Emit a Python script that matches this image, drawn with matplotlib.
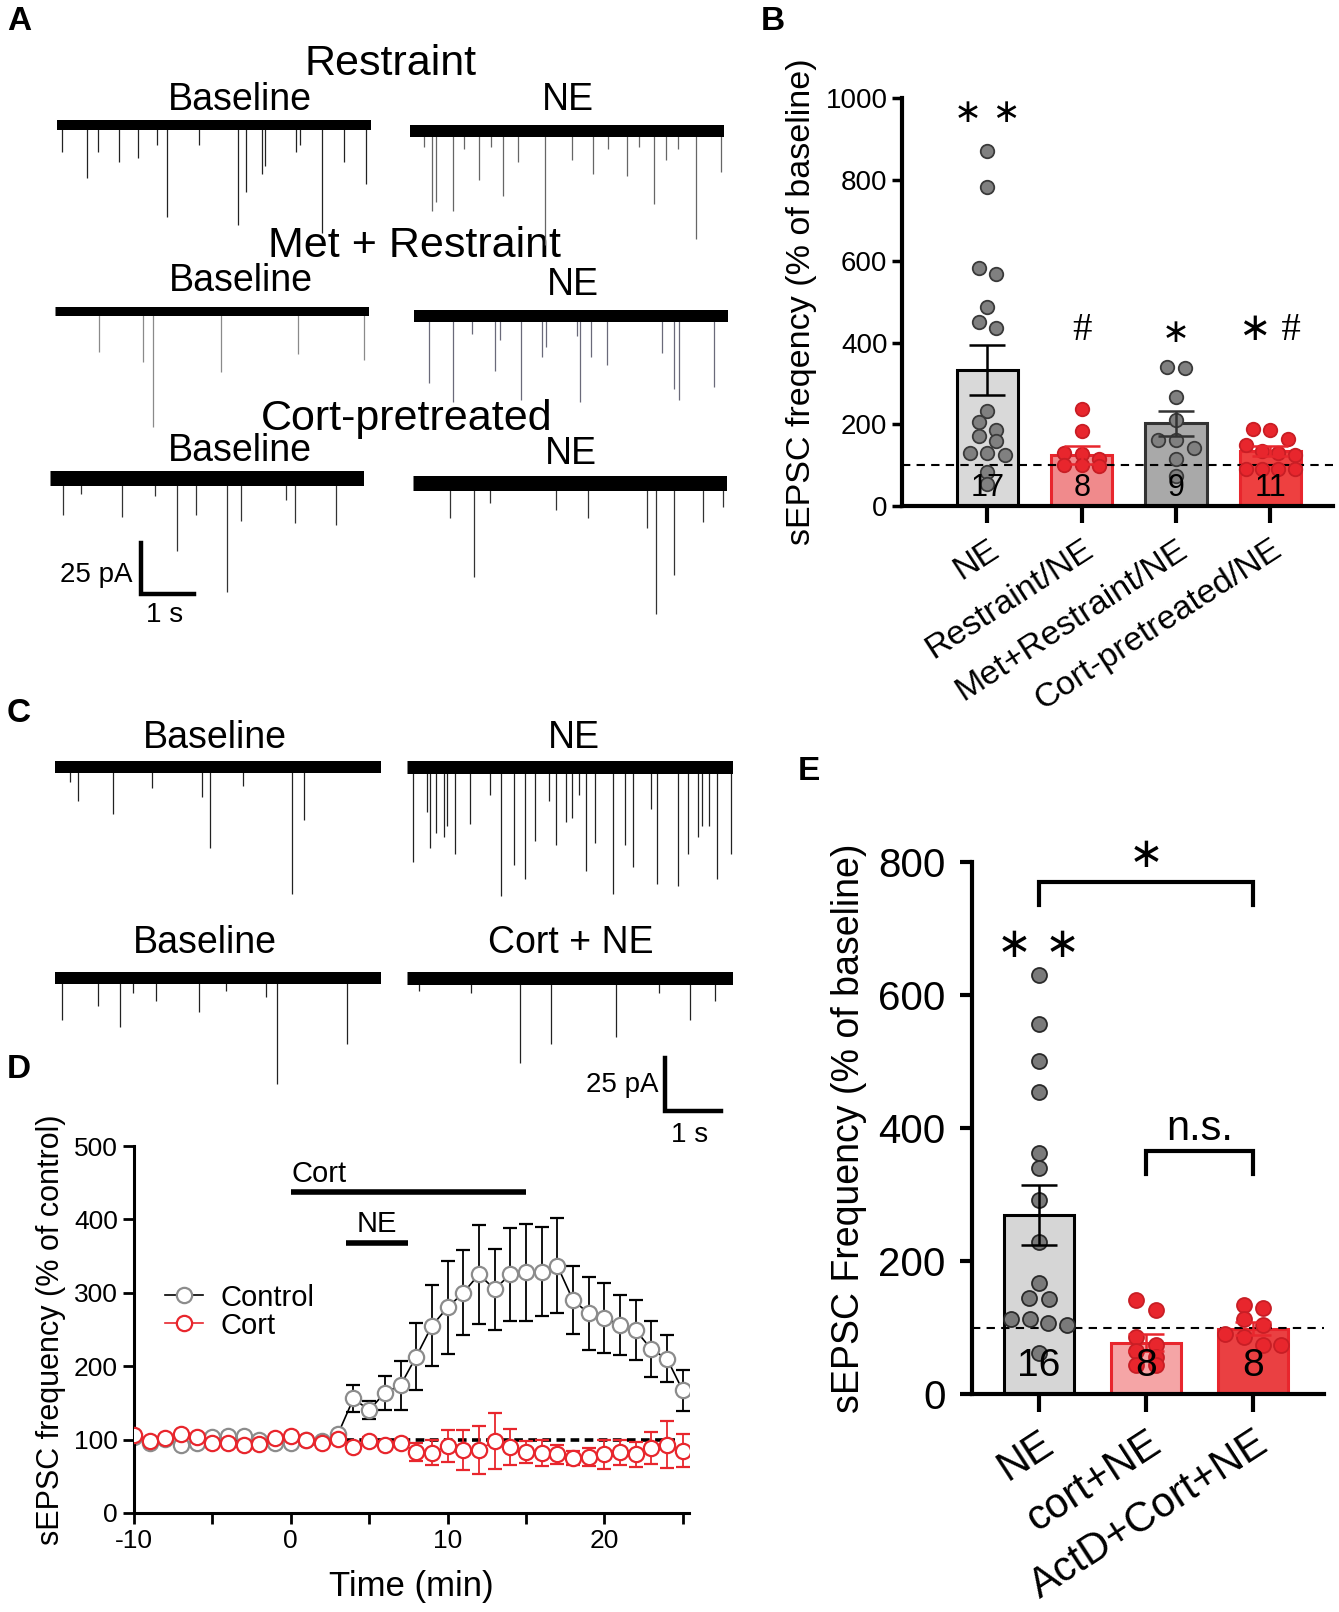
import numpy as np
import matplotlib
matplotlib.use("Agg")
import matplotlib.pyplot as plt
from matplotlib.lines import Line2D

W, H = 1339, 1612
plt.rcParams.update({"font.family": ["Liberation Sans", "DejaVu Sans"],
                     "axes.unicode_minus": False,
                     "axes.linewidth": 2.2, "xtick.major.width": 2.2,
                     "ytick.major.width": 2.2, "xtick.minor.width": 2.2})

STAR_FONT = ["DejaVu Sans"]
HASH_FONT = ["Liberation Serif", "DejaVu Sans"]
GRAY_DOT = "#808080"
RED = "#e8262d"

# ---------------- example traces: spike time (s), depth below baseline (pA) ----
A_RES_BASE_T = [0.09, 0.58, 0.78, 1.19, 1.55, 1.91, 2.11, 2.71, 3.47, 3.61, 3.92, 3.97, 4.57, 4.64, 5.07, 5.49, 5.91]
A_RES_BASE_D = [13, 26, 13, 18, 16, 10, 45, 10, 49, 33, 24, 20, 13, 10, 53, 18, 29]
A_RES_NE_T = [0.26, 0.43, 0.49, 0.83, 1.04, 1.32, 1.55, 1.78, 2.07, 2.59, 3.10, 3.49, 3.78, 4.14, 4.37, 4.66, 4.90, 5.12, 5.46, 5.94]
A_RES_NE_D = [8, 39, 35, 39, 9, 24, 8, 32, 15, 56, 14, 21, 9, 22, 8, 36, 14, 9, 53, 20]
A_MET_BASE_T = [0.85, 1.69, 1.87, 3.18, 4.64, 5.91]
A_MET_BASE_D = [20, 25, 57, 30, 21, 24]
A_MET_NE_T = [0.29, 0.74, 1.10, 1.55, 1.64, 2.04, 2.45, 2.52, 3.12, 3.18, 3.39, 3.69, 4.74, 4.97, 5.07, 5.73]
A_MET_NE_D = [33, 42, 9, 27, 12, 41, 20, 15, 10, 42, 20, 24, 18, 36, 41, 35]
A_CORT_BASE_T = [0.25, 0.60, 1.37, 2.0, 2.43, 2.79, 3.39, 3.66, 4.52, 4.68, 5.46]
A_CORT_BASE_D = [18, 8, 19, 9, 36, 18, 56, 21, 11, 22, 23]
A_CORT_NE_T = [0.71, 1.16, 1.47, 2.73, 3.35, 4.47, 4.64, 4.99, 5.55, 5.93]
A_CORT_NE_D = [17, 46, 10, 13, 17, 22, 64, 45, 19, 12]

C_BASE1_T = [0.28, 0.42, 1.07, 1.78, 2.70, 2.86, 3.46, 4.36, 4.58]
C_BASE1_D = [7, 16, 22, 10, 14, 38, 9, 60, 25]
C_NE_T = [0.11, 0.36, 0.42, 0.54, 0.69, 0.74, 0.89, 1.16, 1.53, 1.74, 1.97, 2.17, 2.36, 2.62, 2.75, 2.92,
          3.03, 3.16, 3.29, 3.46, 3.79, 4.01, 4.17, 4.50, 4.61, 4.99, 5.18, 5.35, 5.44, 5.57, 5.70, 5.97]
C_NE_D = [45, 21, 38, 31, 33, 28, 41, 27, 13, 61, 46, 53, 35, 16, 37, 26,
          24, 13, 49, 36, 60, 37, 47, 20, 55, 56, 41, 33, 28, 28, 53, 41]
C_BASE2_T = [0.12, 0.80, 1.19, 1.43, 1.86, 2.66, 3.14, 3.89, 4.09, 5.38]
C_BASE2_D = [20, 13, 23, 7, 11, 16, 6, 9, 50, 31]
C_CORTNE_T = [0.22, 1.18, 2.09, 2.65, 3.84, 4.64, 5.22, 5.67]
C_CORTNE_D = [6, 7, 40, 31, 28, 7, 20, 11]

SCALE_PA, SCALE_S = 25, 1

# ---------------- panel B ----------------
B_GROUPS = ["NE", "Restraint/NE", "Met+Restraint/NE", "Cort-pretreated/NE"]
B_MEAN = [333, 125, 203, 134]
B_SEM = [62, 23, 31, 12]
B_N = [17, 8, 9, 11]
B_PTS = [[869, 782, 584, 568, 488, 450, 436, 234, 205, 186, 172, 159, 131, 129, 126, 83, 54],
         [237, 183, 131, 128, 114, 101, 101, 98],
         [341, 339, 267, 212, 161, 161, 142, 114, 74],
         [188, 186, 164, 150, 136, 129, 126, 90, 90, 90, 90]]
B_SIG = ["\u2217 \u2217", "#", "\u2217", "\u2217 #"]

# ---------------- panel D ----------------
D_T = list(range(-10, 26))
D_CTRL = [103, 95, 101, 93, 96, 104, 105, 105, 100, 96, 96, 100, 98, 107,
          156, 140, 164, 174, 213, 255, 280, 300, 325, 305, 325, 328, 329, 337,
          290, 272, 266, 256, 249, 223, 210, 167]
D_CTRL_ERR = [3, 3, 4, 3, 4, 4, 4, 3, 3, 3, 3, 3, 3, 4,
              19, 12, 23, 33, 46, 55, 63, 58, 68, 55, 63, 66, 61, 65,
              46, 50, 48, 41, 41, 38, 32, 28]
D_CORT = [106, 98, 102, 107, 103, 95, 96, 93, 94, 102, 105, 99, 96, 101,
          90, 98, 93, 96, 83, 82, 91, 86, 86, 98, 90, 83, 82, 80,
          75, 76, 80, 83, 80, 89, 93, 85]
D_CORT_ERR = [4, 4, 4, 4, 4, 4, 4, 4, 4, 4, 4, 4, 4, 4,
              5, 5, 5, 5, 12, 17, 22, 27, 33, 38, 25, 15, 18, 13,
              10, 12, 20, 17, 17, 22, 32, 22]
D_CORT_ON = (0, 15)
D_NE_ON = (3.5, 7.5)

# ---------------- panel E ----------------
E_GROUPS = ["NE", "cort+NE", "ActD+Cort+NE"]
E_MEAN = [269, 77, 98]
E_SEM = [45, 13, 10]
E_N = [16, 8, 8]
E_PTS = [[630, 557, 501, 454, 363, 340, 292, 228, 167, 145, 143, 113, 113, 107, 104, 61],
         [141, 126, 85, 73, 64, 55, 44, 44],
         [134, 130, 113, 104, 90, 85, 73, 73]]

BAR_W = 0.65


def px_axes(fig, left, top, right, bottom):
    return fig.add_axes([left / W, 1 - bottom / H, (right - left) / W, (bottom - top) / H])


def unit_axes(fig, x0, y0, pps, ppa, xr, yr):
    """axes whose data origin sits at pixel (x0, y0), pps px per s, ppa px per pA"""
    ax = px_axes(fig, x0 + xr[0] * pps, y0 - yr[1] * ppa, x0 + xr[1] * pps, y0 - yr[0] * ppa)
    ax.set_xlim(*xr)
    ax.set_ylim(*yr)
    ax.axis("off")
    return ax


def trace(fig, x0, y0, t, d, pps, ppa, band, spike="#333333", dur=6.0):
    ax = unit_axes(fig, x0, y0, pps, ppa, (0, dur), (-70, 12))
    ax.vlines(t, -np.asarray(d), 0, color=spike, lw=0.9, clip_on=False)
    ax.plot([0, dur], [0, 0], color="black", lw=band * 0.72, solid_capstyle="butt")


def scalebar(fig, x0, y0, pps, ppa):
    ax = unit_axes(fig, x0, y0, pps, ppa, (-0.2, 1.2), (-3, 28))
    ax.plot([0, 0, SCALE_S], [SCALE_PA, 0, 0], color="black", lw=3.2,
            solid_joinstyle="miter", clip_on=False)


def swarm_x(ax, vals, diam, spread=1.3, tol=0.8):
    """GraphPad-like scatter: group points into rows about one dot high, centre each row"""
    bb = ax.get_window_extent()
    sx = bb.width / np.ptp(ax.get_xlim())
    sy = bb.height / np.ptp(ax.get_ylim())
    vals = np.asarray(vals, float)
    rows = []
    for idx in np.argsort(-vals, kind="stable"):
        y = vals[idx] * sy
        if rows and rows[-1][0] - y <= tol * diam:
            rows[-1][1].append(idx)
        else:
            rows.append([y, [idx]])
    offs = np.zeros(len(vals))
    for _, members in rows:
        n = len(members)
        step = min(spread * diam, 0.8 * BAR_W * sx / (n - 1)) if n > 1 else 0.0
        for k, idx in enumerate(members):
            offs[idx] = (k - (n - 1) / 2) * step / sx
    return offs


def bar_panel(ax, groups, means, sems, ns, pts, fcs, ecs, dotc, dotec, diam, nfs, ny):
    x = np.arange(len(groups))
    ax.bar(x, means, width=BAR_W, color=fcs, edgecolor=ecs, linewidth=2.2, zorder=1)
    for i in x:
        off = swarm_x(ax, pts[i], diam)
        ax.scatter(i + off, pts[i], s=(diam * 0.72) ** 2, c=dotc[i], edgecolors=dotec[i],
                   linewidths=1.3, zorder=3)
        ax.errorbar(i, means[i], yerr=sems[i], fmt="none", ecolor=ecs[i], elinewidth=1.8,
                    capsize=13, capthick=1.8, zorder=4)
        ax.text(i, ny, str(ns[i]), ha="center", va="center", fontsize=nfs, zorder=5)
    ax.axhline(100, color="black", lw=1.5, ls=(0, (4, 3)), zorder=2)
    ax.set_xticks(x)
    for s in ("top", "right"):
        ax.spines[s].set_visible(False)
    ax.spines["left"].set_linewidth(3)
    ax.spines["bottom"].set_linewidth(3)


fig = plt.figure(figsize=(W / 100, H / 100), dpi=100)
ov = fig.add_axes([0, 0, 1, 1])
ov.set_xlim(0, W)
ov.set_ylim(H, 0)
ov.axis("off")

# panel letters
for lab, (lx, ly) in {"A": (19, 21), "B": (773, 22), "C": (19, 714), "D": (19, 1070), "E": (809, 771)}.items():
    ov.text(lx, ly, lab, fontsize=24, fontweight="bold", ha="center", va="center")

# ---------------- A ----------------
TXT = 27
ov.text(391, 64, "Restraint", fontsize=31, ha="center", va="center")
ov.text(240, 100, "Baseline", fontsize=TXT, ha="center", va="center")
ov.text(568, 100, "NE", fontsize=TXT, ha="center", va="center")
ov.text(414, 246, "Met + Restraint", fontsize=31, ha="center", va="center")
ov.text(241, 281, "Baseline", fontsize=TXT, ha="center", va="center")
ov.text(573, 285, "NE", fontsize=TXT, ha="center", va="center")
ov.text(407, 419, "Cort-pretreated", fontsize=31, ha="center", va="center")
ov.text(240, 451, "Baseline", fontsize=TXT, ha="center", va="center")
ov.text(571, 454, "NE", fontsize=TXT, ha="center", va="center")

PPS_A, PPA_A = 52.3, 2.04
trace(fig, 57, 125, A_RES_BASE_T, A_RES_BASE_D, PPS_A, PPA_A, 10, "#222222")
trace(fig, 410, 131, A_RES_NE_T, A_RES_NE_D, PPS_A, PPA_A, 12, "#666666")
trace(fig, 55, 311, A_MET_BASE_T, A_MET_BASE_D, PPS_A, PPA_A, 9, "#8a8a8a")
trace(fig, 414, 316, A_MET_NE_T, A_MET_NE_D, PPS_A, PPA_A, 12, "#6a6a7a")
trace(fig, 50, 478, A_CORT_BASE_T, A_CORT_BASE_D, PPS_A, PPA_A, 15, "#333333")
trace(fig, 413, 483, A_CORT_NE_T, A_CORT_NE_D, PPS_A, PPA_A, 15, "#333333")
scalebar(fig, 141, 594, 53, PPA_A)
ov.text(133, 575, "25 pA", fontsize=20, ha="right", va="center")
ov.text(165, 615, "1 s", fontsize=20, ha="center", va="center")

# ---------------- C ----------------
ov.text(215, 738, "Baseline", fontsize=TXT, ha="center", va="center")
ov.text(574, 738, "NE", fontsize=TXT, ha="center", va="center")
ov.text(205, 943, "Baseline", fontsize=TXT, ha="center", va="center")
ov.text(571, 943, "Cort + NE", fontsize=TXT, ha="center", va="center")
PPS_C, PPA_C = 54.3, 2.12
trace(fig, 55, 767, C_BASE1_T, C_BASE1_D, PPS_C, PPA_C, 12, "#222222")
trace(fig, 407, 767, C_NE_T, C_NE_D, PPS_C, PPA_C, 13, "#222222")
trace(fig, 55, 978, C_BASE2_T, C_BASE2_D, PPS_C, PPA_C, 12, "#222222")
trace(fig, 407, 978, C_CORTNE_T, C_CORTNE_D, PPS_C, PPA_C, 13, "#222222")
scalebar(fig, 665, 1111, 56, PPA_C)
ov.text(659, 1085, "25 pA", fontsize=20, ha="right", va="center")
ov.text(690, 1135, "1 s", fontsize=20, ha="center", va="center")

# ---------------- B ----------------
axb = px_axes(fig, 902, 98, 1333, 506)
axb.set_xlim(-0.905, 3.665)
axb.set_ylim(0, 1000)
bar_panel(axb, B_GROUPS, B_MEAN, B_SEM, B_N, B_PTS,
          ["#d9d9d9", "#f08a8c", "#a9a9a9", "#ee4040"],
          ["black", RED, "#333333", RED],
          [GRAY_DOT, RED, GRAY_DOT, RED], ["#3a3a3a", "#c81e25", "#3a3a3a", "#c81e25"], 13.5, 22, 45)
axb.set_yticks(range(0, 1001, 200))
axb.tick_params(axis="y", labelsize=20, length=7, width=2.5)
axb.tick_params(axis="x", length=12, width=3, pad=8)
axb.set_xticklabels(B_GROUPS, rotation=33, ha="right", rotation_mode="anchor", fontsize=24.5)
axb.set_ylabel("sEPSC freqency (% of baseline)", fontsize=24.5, labelpad=6)
for i, (s, y) in enumerate(zip(B_SIG, [965, 430, 425, 430])):
    fam = STAR_FONT if "#" not in s else HASH_FONT
    axb.text(i, y, s, ha="center", va="center", fontsize=24 if "#" not in s else 28, family=fam)

# ---------------- D ----------------
axd = px_axes(fig, 134, 1146, 689, 1513)
axd.set_xlim(-10, 25.4)
axd.set_ylim(0, 500)
axd.hlines(100, -10, 24.5, color="black", lw=2.6, ls=(0, (2.4, 1.5)), zorder=1)
axd.errorbar(D_T, D_CTRL, yerr=D_CTRL_ERR, fmt="-o", color="black", lw=1.2, ms=11,
             mfc="white", mec="#8c8c8c", mew=1.6, ecolor="black", elinewidth=1.3,
             capsize=5, capthick=1.3, zorder=2)
axd.errorbar(D_T, D_CORT, yerr=D_CORT_ERR, fmt="-o", color=RED, lw=1.2, ms=11,
             mfc="white", mec=RED, mew=1.6, ecolor=RED, elinewidth=1.3,
             capsize=5, capthick=1.3, zorder=3)
axd.plot(D_CORT_ON, [437, 437], color="black", lw=4, solid_capstyle="butt")
axd.text(D_CORT_ON[0] + 0.05, 462, "Cort", fontsize=21, ha="left", va="center")
axd.plot(D_NE_ON, [368, 368], color="black", lw=4, solid_capstyle="butt")
axd.text(sum(D_NE_ON) / 2, 394, "NE", fontsize=21, ha="center", va="center")
axd.set_xticks([-10, 0, 10, 20])
axd.set_xticks([-5, 5, 15, 25], minor=True)
axd.set_yticks(range(0, 501, 100))
axd.tick_params(axis="both", which="both", labelsize=19, length=8, width=2)
for s in ("top", "right"):
    axd.spines[s].set_visible(False)
axd.spines["left"].set_linewidth(2.2)
axd.spines["bottom"].set_linewidth(2.2)
axd.set_xlabel("Time (min)", fontsize=25, labelpad=12)
axd.set_ylabel("sEPSC frequency (% of control)", fontsize=22, labelpad=6)
hd = [Line2D([], [], color="black", lw=1.2, marker="o", ms=11, mfc="white", mec="#8c8c8c", mew=1.6),
      Line2D([], [], color=RED, lw=1.2, marker="o", ms=11, mfc="white", mec=RED, mew=1.6)]
axd.legend(hd, ["Control", "Cort"], loc="upper left", bbox_to_anchor=(0.03, 0.665), frameon=False,
           fontsize=21, handlelength=1.3, handletextpad=0.6, labelspacing=0.0, borderpad=0)

# ---------------- E ----------------
axe = px_axes(fig, 972, 862, 1324, 1394)
axe.set_xlim(-0.625, 2.66)
axe.set_ylim(0, 800)
bar_panel(axe, E_GROUPS, E_MEAN, E_SEM, E_N, E_PTS,
          ["#d6d6d6", "#f5a5a6", "#ea4042"],
          ["black", RED, RED],
          ["#7a7a7a", RED, RED], ["#2a2a2a", "#c81e25", "#c81e25"], 15, 28, 42)
axe.set_yticks(range(0, 801, 200))
axe.tick_params(axis="y", labelsize=29, length=9, width=3, pad=10)
axe.tick_params(axis="x", length=13, width=3, pad=8)
axe.set_xticklabels(E_GROUPS, rotation=33, ha="right", rotation_mode="anchor", fontsize=30)
axe.set_ylabel("sEPSC Frequency (% of baseline)", fontsize=27, labelpad=8)
for g0, g1, ytop, ylow, lab in [(0, 2, 770, 735, "\u2217"), (1, 2, 365, 331, "n.s.")]:
    axe.plot([g0, g0, g1, g1], [ylow, ytop, ytop, ylow], color="black", lw=3,
             solid_joinstyle="miter")
    if lab == "n.s.":
        axe.text((g0 + g1) / 2, ytop + 34, lab, ha="center", va="center", fontsize=30)
    else:
        axe.text((g0 + g1) / 2, ytop + 40, lab, ha="center", va="center", fontsize=30, family=STAR_FONT)
axe.text(0, 675, "\u2217 \u2217", ha="center", va="center", fontsize=30, family=STAR_FONT)

fig.savefig("out.png", dpi=100)
